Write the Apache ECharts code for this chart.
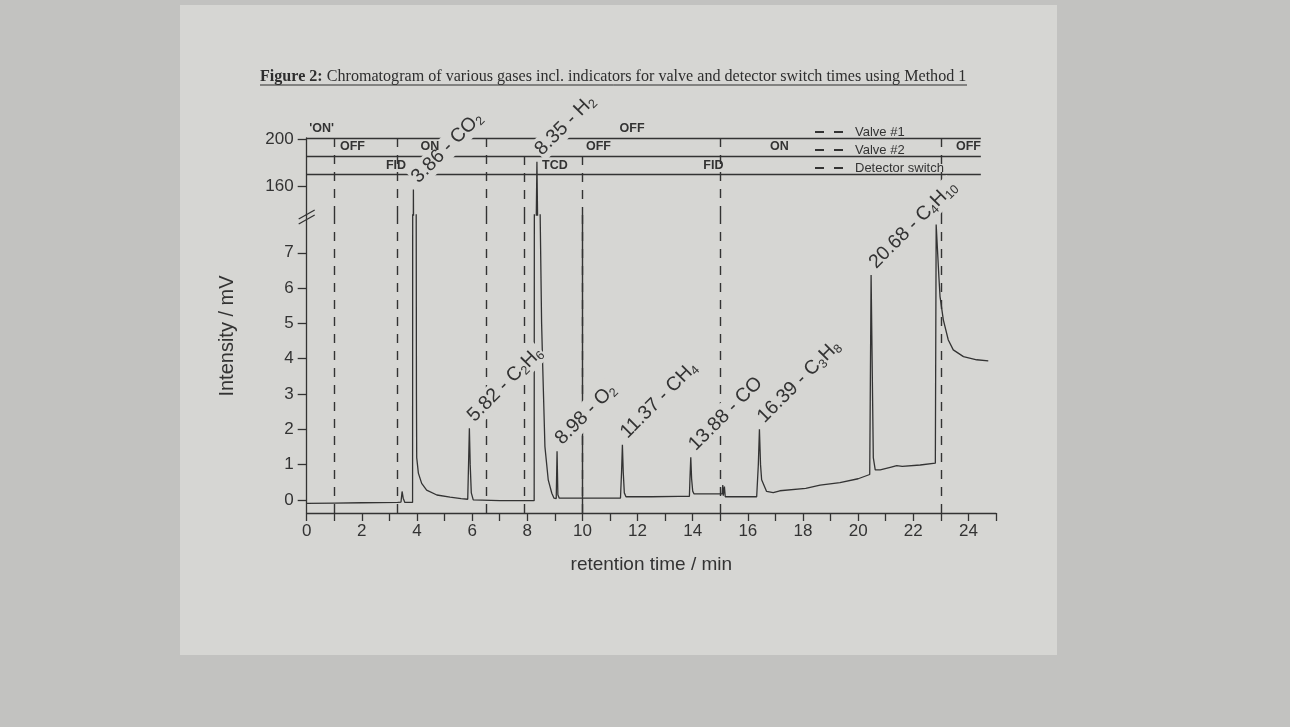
<!DOCTYPE html>
<html>
<head>
<meta charset="utf-8">
<script src="https://cdn.jsdelivr.net/npm/echarts@6/dist/echarts.min.js"></script>
<style>
html,body{margin:0;padding:0;background:#c2c2c0;}
#chart{width:1290px;height:727px;}
</style>
</head>
<body>
<div id="chart"></div>
<script>
// ---------------- data ----------------
const signalTime = [0.00,1.00,2.00,3.30,3.42,3.46,3.50,3.56,3.84,3.86,3.87,3.89,3.97,3.98,3.99,4.05,4.17,4.35,4.72,5.20,5.60,
  5.84,5.87,5.90,5.93,5.97,6.04,7.00,8.25,8.28,8.35,8.42,8.46,8.52,8.56,8.64,8.76,8.89,8.97,9.05,9.08,9.11,9.16,
  10.00,11.00,11.38,11.42,11.45,11.48,11.52,11.58,12.50,13.50,13.88,13.90,13.93,13.96,14.00,14.05,14.50,15.07,15.09,15.11,15.15,15.18,
  15.80,16.32,16.38,16.42,16.46,16.50,16.68,16.92,17.16,18.10,18.62,19.34,20.00,20.42,20.47,20.55,20.62,20.80,21.20,21.40,21.60,22.25,22.80,
  22.83,22.87,22.93,22.97,23.09,23.27,23.45,23.82,24.30,24.72];
const signalMV = [-0.10,-0.09,-0.08,-0.07,-0.06,0.24,0.05,-0.07,-0.07,40,157,40,9,3,1.2,0.76,0.47,0.28,0.14,0.08,0.04,
  0.02,1.0,2.03,1.0,0.2,0.0,-0.02,-0.02,40,181,40,8.5,5.0,3.78,1.51,0.57,0.19,0.05,0.04,1.38,0.15,0.05,
  0.05,0.05,0.05,0.8,1.56,0.8,0.2,0.09,0.09,0.10,0.10,0.6,1.21,0.6,0.25,0.17,0.17,0.17,0.42,0.12,0.38,0.09,
  0.09,0.09,1.0,2.0,1.0,0.57,0.24,0.21,0.26,0.33,0.42,0.49,0.60,0.72,6.37,1.2,0.85,0.85,0.93,0.97,0.95,0.99,1.04,
  7.8,7.8,6.3,5.76,5.1,4.53,4.25,4.06,3.97,3.94];

const peakName  = ['3.86 - CO2','5.82 - C2H6','8.35 - H2','8.98 - O2','11.37 - CH4','13.88 - CO','16.39 - C3H8','20.68 - C4H10'];
const peakTime  = [3.87, 5.90, 8.35, 9.08, 11.45, 13.93, 16.42, 20.47];
const peakMV    = [157, 2.03, 181, 1.38, 1.56, 1.21, 2.0, 6.37];
const peakPanel = ['upper','lower','upper','lower','lower','lower','lower','lower'];

const valve1Switch   = [1.0];
const valve2Switch   = [3.3, 6.5, 15.0, 23.0];
const detectorSwitch = [7.9, 10.0];
const solidMarker    = [10.0];

const stateLineLevel = [201.5, 186, 170];
const stateLineEnd   = 24.45;
const stateText = ["'ON'", 'OFF', 'OFF', 'ON', 'OFF', 'ON', 'OFF', 'FID', 'TCD', 'FID'];
const stateTime = [0.54, 11.8, 1.66, 4.47, 10.58, 17.14, 24.0, 3.24, 9.0, 14.75];
const stateRow  = [0, 0, 1, 1, 1, 1, 1, 2, 2, 2];

const xTickLabels = [0,2,4,6,8,10,12,14,16,18,20,22,24];
const yTicksLower = [0,1,2,3,4,5,6,7];
const yTicksUpper = [160,200];

const titleBold = 'Figure 2:';
const titleRest = ' Chromatogram of various gases incl. indicators for valve and detector switch times using Method 1';
const xName = 'retention time / min';
const yName = 'Intensity / mV';
const legendNames = ['Valve #1', 'Valve #2', 'Detector switch'];

// ---------------- styling / layout ----------------
const INK = '#333333';
const PAPER = '#d6d6d3';
const SANS = '"Liberation Sans", Arial, sans-serif';
const SERIF = '"Liberation Serif", "Times New Roman", serif';
const GL = 306.7, GR = 1290 - 996, UT = 138, UH = 77, LT = 215, LH = 298;
const UPPER_MIN = 135, UPPER_MAX = 201.5, LOWER_MIN = -0.37, LOWER_MAX = 8.07;

const signal = signalTime.map((t, i) => [t, signalMV[i]]);
const rowValue = r => r === 0 ? stateLineLevel[0] + (stateLineLevel[0] - stateLineLevel[1]) / 2
                               : (stateLineLevel[r - 1] + stateLineLevel[r]) / 2;
const toRich = s => s.replace(/([A-Z])(\d+)/g, '$1{s|$2}');

// title fitted to the printed width
const ctx = document.createElement('canvas').getContext('2d');
ctx.font = 'bold 15px ' + SERIF; const wB = ctx.measureText(titleBold).width;
ctx.font = '15px ' + SERIF; const wR = ctx.measureText(titleRest).width;
const titleFs = 15 * 707 / (wB + wR);
const titleW = (wB + wR) * titleFs / 15;

const dashStyle = {color: INK, width: 1.4, type: [9, 8]};
// switch lines: in the upper panel they start at the state line of their own row
function switchSeries(name, times, gi, startLevel) {
  const data = gi === 0
    ? times.map(t => [{coord: [t, startLevel]}, {coord: [t, UPPER_MIN]}])
    : times.map(t => ({xAxis: t}));
  return {
    type: 'line', name: name, xAxisIndex: gi, yAxisIndex: gi, data: [], symbol: 'none',
    lineStyle: {color: INK, width: 1.5, type: [8, 10]}, itemStyle: {color: INK},
    animation: false, z: 3,
    markLine: {silent: true, symbol: ['none', 'none'], animation: false, label: {show: false},
      lineStyle: dashStyle, data: data}
  };
}
const plainLabel = {textBorderWidth: 0, textShadowBlur: 0, opacity: 1};
function labelSeries(panel, gi) {
  const d = [];
  peakName.forEach((n, i) => { if (peakPanel[i] === panel) d.push({value: [peakTime[i], peakMV[i]], name: n}); });
  return {
    type: 'scatter', xAxisIndex: gi, yAxisIndex: gi, data: d, symbol: 'circle', symbolSize: 0,
    itemStyle: {color: INK}, clip: false, z: 10, silent: true, animation: false,
    label: Object.assign({
      show: true, position: 'top', distance: 3, offset: [4.6, 7.7], rotate: 45, align: 'left', verticalAlign: 'bottom',
      formatter: p => toRich(p.name), color: INK, fontFamily: SANS, fontSize: 19.5, lineHeight: 23,
      backgroundColor: PAPER, padding: [0, 1],
      rich: {s: Object.assign({fontSize: 12.5, lineHeight: 12, verticalAlign: 'bottom', color: INK, fontFamily: SANS}, plainLabel)}
    }, plainLabel)
  };
}

const chart = echarts.init(document.getElementById('chart'), null, {renderer: 'canvas'});
chart.setOption({
  backgroundColor: '#c2c2c0',
  animation: false,
  textStyle: {fontFamily: SANS},
  graphic: [
    {type: 'rect', shape: {x: 180, y: 5, width: 877, height: 650}, style: {fill: PAPER}, z: -10, silent: true},
    {type: 'text', x: 260, y: 77, silent: true,
      style: {text: '{b|' + titleBold + '}' + titleRest, fontFamily: SERIF, fontSize: titleFs, fill: '#2e2e2e',
        verticalAlign: 'middle', rich: {b: {fontWeight: 'bold', fontFamily: SERIF, fontSize: titleFs, fill: '#2e2e2e'}}}},
    {type: 'line', shape: {x1: 260, y1: 85, x2: 260 + titleW, y2: 85}, style: {stroke: '#2e2e2e', lineWidth: 1}, silent: true},
    {type: 'text', x: 227, y: 336, rotation: Math.PI / 2, silent: true,
      style: {text: yName, fontFamily: SANS, fontSize: 20, fill: INK, align: 'center', verticalAlign: 'middle'}},
    {type: 'line', shape: {x1: GL - 8, y1: LT + 4, x2: GL + 8, y2: LT - 5}, style: {stroke: INK, lineWidth: 1.3}, silent: true},
    {type: 'line', shape: {x1: GL - 8, y1: LT + 9, x2: GL + 8, y2: LT}, style: {stroke: INK, lineWidth: 1.3}, silent: true}
  ],
  legend: {
    data: legendNames.map(n => ({name: n, icon: 'path://M0,0H9V2H0ZM19,0H28V2H19Z'})),
    orient: 'vertical', left: 810, top: 120,
    itemWidth: 28, itemHeight: 2, itemGap: 4, selectedMode: false,
    itemStyle: {color: INK, borderWidth: 0},
    textStyle: {color: INK, fontSize: 13, fontFamily: SANS, lineHeight: 14, padding: [0, 0, 0, 7]}
  },
  grid: [
    {left: GL, right: GR, top: UT, height: UH},
    {left: GL, right: GR, top: LT, height: LH}
  ],
  xAxis: [
    {type: 'value', gridIndex: 0, min: 0, max: 25, show: false},
    {type: 'value', gridIndex: 1, min: 0, max: 25, interval: 1,
      axisLine: {onZero: false, lineStyle: {color: INK, width: 1.3}},
      axisTick: {show: true, length: 8, lineStyle: {color: INK, width: 1.3}},
      axisLabel: {customValues: xTickLabels, color: INK, fontSize: 17, margin: 10, fontFamily: SANS},
      splitLine: {show: false},
      name: xName, nameLocation: 'middle', nameGap: 42,
      nameTextStyle: {color: INK, fontSize: 19, fontFamily: SANS}}
  ],
  yAxis: [
    {type: 'value', gridIndex: 0, min: UPPER_MIN, max: UPPER_MAX,
      axisLine: {show: true, onZero: false, lineStyle: {color: INK, width: 1.3}},
      axisTick: {show: true, length: 9, customValues: yTicksUpper, lineStyle: {color: INK, width: 1.3}},
      axisLabel: {customValues: yTicksUpper, color: INK, fontSize: 17, margin: 13, fontFamily: SANS},
      splitLine: {show: false}},
    {type: 'value', gridIndex: 1, min: LOWER_MIN, max: LOWER_MAX,
      axisLine: {show: true, onZero: false, lineStyle: {color: INK, width: 1.3}},
      axisTick: {show: true, length: 9, customValues: yTicksLower, lineStyle: {color: INK, width: 1.3}},
      axisLabel: {customValues: yTicksLower, color: INK, fontSize: 17, margin: 13, fontFamily: SANS},
      splitLine: {show: false}}
  ],
  series: [
    {type: 'line', name: 'signal-upper', xAxisIndex: 0, yAxisIndex: 0, data: signal, symbol: 'none', clip: true,
      lineStyle: {color: INK, width: 1.3}, z: 4, silent: true,
      markLine: {silent: true, symbol: ['none', 'none'], label: {show: false}, lineStyle: {color: INK, width: 1.3, type: 'solid'},
        data: stateLineLevel.map(v => [{coord: [0, v]}, {coord: [stateLineEnd, v]}])}},
    {type: 'line', name: 'signal-lower', xAxisIndex: 1, yAxisIndex: 1, data: signal, symbol: 'none', clip: true,
      lineStyle: {color: INK, width: 1.3}, z: 4, silent: true,
      markLine: {silent: true, symbol: ['none', 'none'], label: {show: false}, lineStyle: {color: INK, width: 1.4, type: 'solid'},
        data: solidMarker.map(t => ({xAxis: t}))}},
    switchSeries(legendNames[0], valve1Switch, 0, stateLineLevel[0]), switchSeries(legendNames[0], valve1Switch, 1),
    switchSeries(legendNames[1], valve2Switch, 0, stateLineLevel[0]), switchSeries(legendNames[1], valve2Switch, 1),
    switchSeries(legendNames[2], detectorSwitch, 0, stateLineLevel[1]), switchSeries(legendNames[2], detectorSwitch, 1),
    labelSeries('upper', 0), labelSeries('lower', 1),
    {type: 'scatter', xAxisIndex: 0, yAxisIndex: 0, clip: false, symbol: 'circle', symbolSize: 0, silent: true, z: 12,
      itemStyle: {color: INK},
      data: stateText.map((s, i) => ({value: [stateTime[i], rowValue(stateRow[i])], name: s})),
      label: Object.assign({show: true, position: 'inside', formatter: p => p.name, color: INK, fontSize: 12.5,
        fontWeight: 'bold', fontFamily: SANS}, plainLabel)}
  ]
});
</script>
</body>
</html>
